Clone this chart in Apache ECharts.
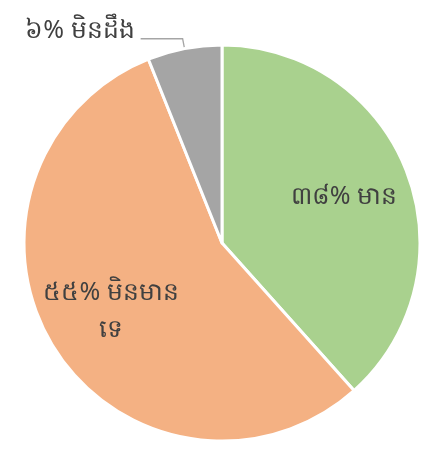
<!DOCTYPE html>
<html>
<head>
<meta charset="utf-8">
<script src="https://cdn.jsdelivr.net/npm/echarts@6/dist/echarts.min.js"></script>
<style>
    html, body { margin: 0; padding: 0; background: #fff; }
    #chart { width: 430px; height: 451px; }
</style>
</head>
<body>
<div id="chart"></div>
<script>
// data
var names = ['មាន', 'មិនមានទេ', 'មិនដឹង'];
var values = [38, 55, 6];
var pctLabels = ['៣៨%', '៥៥%', '៦%'];
var nameLabels = ['មាន', 'មិនមាន\nទេ', 'មិនដឹង'];
var colors = ['#A9D18E', '#F4B183', '#A5A5A5'];

var cx = 222, cy = 243;

var myChart = echarts.init(document.getElementById('chart'));

var data = values.map(function (v, i) {
    var item = {
        value: v,
        name: names[i],
        itemStyle: {color: colors[i]}
    };
    if (i === 2) {
        item.label = {position: 'outside', distanceToLabelLine: 6};
        item.labelLine = {show: true, length: 10, length2: 42, lineStyle: {color: '#A5A5A5', width: 1.3}};
    }
    return item;
});

var option = {
    animation: false,
    series: [{
        type: 'pie',
        center: [cx, cy],
        radius: [0, 198],
        startAngle: 90,
        clockwise: true,
        itemStyle: {borderColor: '#fff', borderWidth: 3},
        label: {
            show: true,
            position: 'inside',
            fontFamily: '"Noto Sans", sans-serif',
            fontSize: 25,
            lineHeight: 37,
            color: '#404040',
            formatter: function (p) {
                return pctLabels[p.dataIndex] + ' ' + nameLabels[p.dataIndex];
            }
        },
        labelLine: {show: false},
        labelLayout: function (params) {
            if (params.dataIndex === 2) {
                return {dy: -8};
            }
            var r = params.labelRect;
            var lx = r.x + r.width / 2, ly = r.y + r.height / 2;
            return {dx: (lx - cx) * 0.28, dy: (ly - cy) * 0.28};
        },
        data: data
    }]
};

myChart.setOption(option);
</script>
</body>
</html>
